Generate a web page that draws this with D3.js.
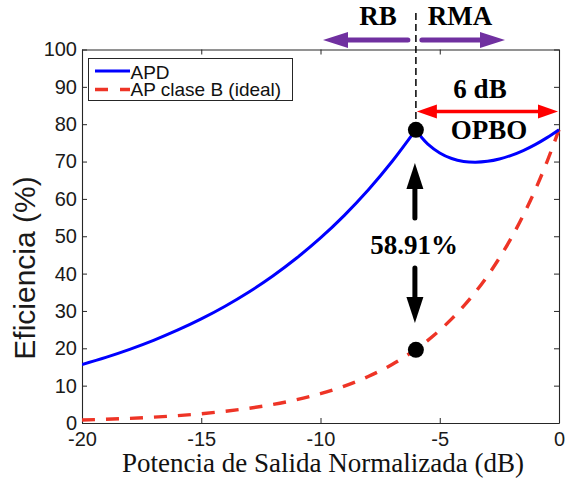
<!DOCTYPE html>
<html>
<head>
<meta charset="utf-8">
<script src="https://cdn.jsdelivr.net/npm/d3@7"></script>
<style>
  html, body { margin: 0; padding: 0; background: #fff; }
  svg { display: block; }
</style>
</head>
<body>
<svg id="chart" width="572" height="485"></svg>
<script>
// ---------- data ----------
const xTicks = [-20, -15, -10, -5, 0];
const yTicks = [0, 10, 20, 30, 40, 50, 60, 70, 80, 90, 100];

// APD, back-off region (-20 .. -6 dB)
const apdLowX = [-20, -19, -18, -17, -16, -15, -14, -13, -12, -11, -10, -9, -8, -7, -6];
const apdLowY = [15.67, 17.58, 19.73, 22.13, 24.84, 27.87, 31.27, 35.08, 39.36, 44.17, 49.55, 55.60, 62.38, 70.00, 78.54];
// APD, high-power (load-modulation) region (-6 .. 0 dB)
const apdHighX = [-6, -5.75, -5.5, -5, -4.5, -4, -3.5, -3, -2.5, -2, -1.5, -1, -0.5, 0];
const apdHighY = [78.54, 76.37, 74.69, 72.31, 70.81, 70.03, 69.83, 70.06, 70.68, 71.67, 72.95, 74.54, 76.41, 78.54];

// Ideal class B PA
const classBX = [-20, -19, -18, -17, -16, -15, -14, -13, -12, -11, -10, -9, -8, -7, -6, -5.5, -5, -4.5, -4, -3.5, -3, -2.5, -2, -1.5, -1, -0.5, 0];
const classBY = [0.79, 0.99, 1.24, 1.57, 1.97, 2.48, 3.13, 3.94, 4.96, 6.24, 7.85, 9.89, 12.45, 15.67, 19.73, 22.13, 24.84, 27.87, 31.27, 35.08, 39.36, 44.17, 49.55, 55.60, 62.38, 70.00, 78.54];

// Highlighted points
const markerX = [-6, -6];
const markerY = [78.5, 19.59];

const legendLabels = ["APD", "AP clase B (ideal)"];
const xLabel = "Potencia de Salida Normalizada (dB)";
const yLabel = "Eficiencia (%)";
const diffLabel = "58.91%";

// ---------- layout ----------
const svg = d3.select("#chart");
const mLeft = 82, mRight = 559, mTop = 49.5, mBottom = 423;
const axisColor = "#262626";
const blue = "#0000ff", red = "#ee3426", purple = "#7030a0";
const sans = "'Liberation Sans', Arial, Helvetica, sans-serif";
const serif = "'Liberation Serif', 'Times New Roman', Times, serif";

const x = d3.scaleLinear().domain([-20, 0]).range([mLeft, mRight]);
const y = d3.scaleLinear().domain([0, 100]).range([mBottom, mTop]);

const defs = svg.append("defs");
defs.append("clipPath").attr("id", "plotclip")
  .append("rect").attr("x", mLeft).attr("y", mTop - 4).attr("width", mRight - mLeft + 4).attr("height", mBottom - mTop + 4);

// ---------- axes ----------
const gx = svg.append("g").attr("transform", `translate(0,${mBottom})`)
  .call(d3.axisBottom(x).tickValues(xTicks).tickSize(-5).tickSizeOuter(0).tickPadding(9).tickFormat(d => String(d)));
const gxTop = svg.append("g").attr("transform", `translate(0,${mTop})`)
  .call(d3.axisTop(x).tickValues(xTicks).tickSize(-5).tickSizeOuter(0).tickFormat(""));
const gy = svg.append("g").attr("transform", `translate(${mLeft},0)`)
  .call(d3.axisLeft(y).tickValues(yTicks).tickSize(-5).tickSizeOuter(0).tickPadding(5).tickFormat(d => String(d)));
const gyRight = svg.append("g").attr("transform", `translate(${mRight},0)`)
  .call(d3.axisRight(y).tickValues(yTicks).tickSize(-5).tickSizeOuter(0).tickFormat(""));

[gx, gxTop, gy, gyRight].forEach(g => {
  g.selectAll("path.domain").attr("stroke", axisColor).attr("stroke-width", 1.1);
  g.selectAll(".tick line").attr("stroke", axisColor).attr("stroke-width", 1);
  g.selectAll(".tick text").attr("fill", "#1a1a1a").style("font-family", sans).style("font-size", "20px");
});

// axis labels
svg.append("text")
  .attr("x", 323).attr("y", 472)
  .attr("text-anchor", "middle")
  .style("font-family", serif).style("font-size", "27px").attr("fill", "#111")
  .text(xLabel);
svg.append("text")
  .attr("transform", "translate(35,268) rotate(-90)")
  .attr("text-anchor", "middle")
  .style("font-family", sans).style("font-size", "30px").attr("fill", "#1a1a1a")
  .text(yLabel);

// ---------- series ----------
const plot = svg.append("g").attr("clip-path", "url(#plotclip)");
const line = d3.line().x(d => x(d[0])).y(d => y(d[1])).curve(d3.curveCatmullRom);

const classB = classBX.map((v, i) => [v, classBY[i]]);
plot.append("path").datum(classB)
  .attr("d", line).attr("fill", "none")
  .attr("stroke", red).attr("stroke-width", 3.4).attr("stroke-dasharray", "13,11");

const apdLow = apdLowX.map((v, i) => [v, apdLowY[i]]);
const apdHigh = apdHighX.map((v, i) => [v, apdHighY[i]]);
[apdLow, apdHigh].forEach(seg => {
  plot.append("path").datum(seg)
    .attr("d", line).attr("fill", "none")
    .attr("stroke", blue).attr("stroke-width", 3).attr("stroke-linejoin", "round");
});

// ---------- annotations ----------
svg.append("line")
  .attr("x1", x(-6)).attr("x2", x(-6)).attr("y1", 13).attr("y2", y(markerY[0]) - 6)
  .attr("stroke", "#000").attr("stroke-width", 1.5).attr("stroke-dasharray", "7,4");

svg.selectAll("circle.mk").data(markerX.map((v, i) => [v, markerY[i]])).join("circle")
  .attr("class", "mk")
  .attr("cx", d => x(d[0])).attr("cy", d => y(d[1])).attr("r", 8).attr("fill", "#000");

function arrowHead(g, tipX, tipY, dirX, dirY, len, halfW, color) {
  const bx = tipX - dirX * len, by = tipY - dirY * len;
  const px = -dirY, py = dirX;
  g.append("path")
    .attr("d", `M${tipX},${tipY} L${bx + px * halfW},${by + py * halfW} L${bx - px * halfW},${by - py * halfW} Z`)
    .attr("fill", color);
}

const ann = svg.append("g");
const xs = x(-6);
ann.append("line").attr("x1", xs - 8).attr("x2", 345).attr("y1", 40).attr("y2", 40)
  .attr("stroke", purple).attr("stroke-width", 5).attr("stroke-linecap", "round");
arrowHead(ann, 323, 40, -1, 0, 25, 8, purple);
ann.append("line").attr("x1", xs + 6).attr("x2", 482).attr("y1", 40).attr("y2", 40)
  .attr("stroke", purple).attr("stroke-width", 5).attr("stroke-linecap", "round");
arrowHead(ann, 505, 40, 1, 0, 25, 8, purple);

ann.append("text").attr("x", 378).attr("y", 25).attr("text-anchor", "middle")
  .style("font-family", serif).style("font-size", "27px").style("font-weight", "bold").text("RB");
ann.append("text").attr("x", 460).attr("y", 25).attr("text-anchor", "middle")
  .style("font-family", serif).style("font-size", "27px").style("font-weight", "bold").text("RMA");

const ry = 111.5;
ann.append("line").attr("x1", x(-6) + 15).attr("x2", x(0) - 15).attr("y1", ry).attr("y2", ry)
  .attr("stroke", "#ff0000").attr("stroke-width", 3.5);
arrowHead(ann, x(-6) + 1, ry, -1, 0, 20, 7, "#ff0000");
arrowHead(ann, x(0) - 1, ry, 1, 0, 20, 7, "#ff0000");
ann.append("text").attr("x", 480).attr("y", 98).attr("text-anchor", "middle")
  .style("font-family", serif).style("font-size", "27px").style("font-weight", "bold").text("6 dB");
ann.append("text").attr("x", 489).attr("y", 139).attr("text-anchor", "middle")
  .style("font-family", serif).style("font-size", "27px").style("font-weight", "bold").text("OPBO");

const bxp = x(-6) - 1;
ann.append("line").attr("x1", bxp).attr("x2", bxp).attr("y1", 218).attr("y2", 185)
  .attr("stroke", "#000").attr("stroke-width", 5).attr("stroke-linecap", "round");
arrowHead(ann, bxp, 163, 0, -1, 26, 8.5, "#000");
ann.append("line").attr("x1", bxp).attr("x2", bxp).attr("y1", 268).attr("y2", 300)
  .attr("stroke", "#000").attr("stroke-width", 5).attr("stroke-linecap", "round");
arrowHead(ann, bxp, 323, 0, 1, 26, 8.5, "#000");
ann.append("text").attr("x", 414).attr("y", 254).attr("text-anchor", "middle")
  .style("font-family", serif).style("font-size", "27px").style("font-weight", "bold").text(diffLabel);

// ---------- legend ----------
const lg = svg.append("g");
lg.append("rect").attr("x", 88.5).attr("y", 58.5).attr("width", 204).attr("height", 42)
  .attr("fill", "#fff").attr("stroke", axisColor).attr("stroke-width", 1);
const legendRows = [
  { label: legendLabels[0], color: blue, dash: null, ly: 71, ty: 78.5 },
  { label: legendLabels[1], color: red, dash: "13,12", ly: 89.5, ty: 96 }
];
legendRows.forEach(r => {
  lg.append("line").attr("x1", 95).attr("x2", 130).attr("y1", r.ly).attr("y2", r.ly)
    .attr("stroke", r.color).attr("stroke-width", r.dash ? 3.4 : 3)
    .attr("stroke-dasharray", r.dash);
  lg.append("text").attr("x", 130.5).attr("y", r.ty)
    .style("font-family", sans).style("font-size", "19px").attr("fill", "#111").text(r.label);
});
</script>
</body>
</html>
